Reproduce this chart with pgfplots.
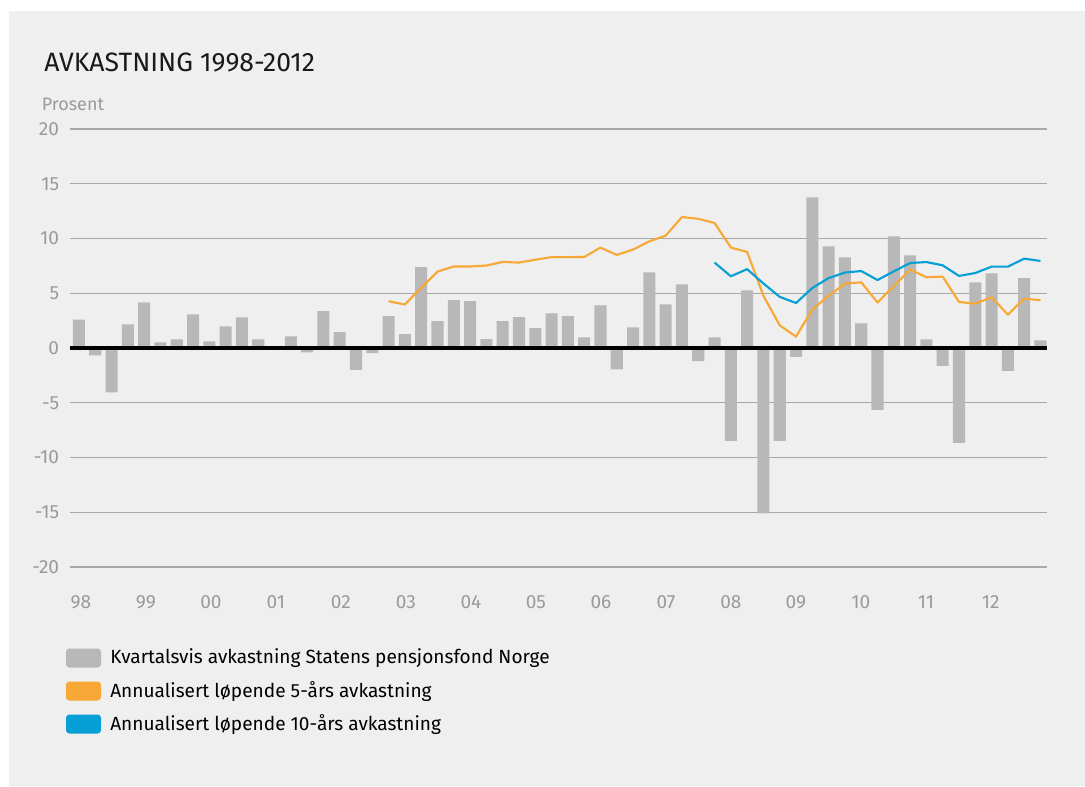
\documentclass[border=0pt]{standalone}
\usepackage{pgfplots}
\pgfplotsset{compat=1.18}
\usepackage{fontspec}
\setmainfont{Fira Sans}

\pgfdeclarelayer{background}
\pgfsetlayers{background,main}

\definecolor{panel}{HTML}{EFEFEF}
\definecolor{bargray}{HTML}{B8B8B9}
\definecolor{fiveyr}{HTML}{F8A836}
\definecolor{tenyr}{HTML}{069FD6}
\definecolor{ticktxt}{HTML}{9A9A9A}
\definecolor{gridc}{HTML}{A8A8A8}

% Quarterly returns, 1998Q1 = 0 ... 2012Q4 = 59 (percent)
\pgfplotstableread{
q  r
0  2.60
1  -0.67
2  -4.05
3  2.16
4  4.17
5  0.52
6  0.79
7  3.08
8  0.61
9  1.98
10 2.80
11 0.79
12 0.00
13 1.07
14 -0.40
15 3.36
16 1.44
17 -2.00
18 -0.47
19 2.90
20 1.26
21 7.38
22 2.45
23 4.37
24 4.27
25 0.80
26 2.45
27 2.81
28 1.81
29 3.17
30 2.90
31 0.98
32 3.90
33 -1.95
34 1.89
35 6.91
36 3.99
37 5.82
38 -1.20
39 0.98
40 -8.49
41 5.27
42 -15.10
43 -8.49
44 -0.82
45 13.76
46 9.29
47 8.28
48 2.26
49 -5.66
50 10.20
51 8.47
52 0.79
53 -1.64
54 -8.67
55 6.00
56 6.82
57 -2.10
58 6.37
59 0.70
}\quarterly

% Annualised rolling 5-year return
\pgfplotstableread{
q  r
19 4.27
20 3.97
21 5.50
22 6.98
23 7.44
24 7.44
25 7.53
26 7.86
27 7.80
28 8.06
29 8.30
30 8.30
31 8.31
32 9.17
33 8.50
34 8.99
35 9.74
36 10.26
37 11.96
38 11.80
39 11.42
40 9.17
41 8.77
42 4.77
43 2.07
44 1.04
45 3.53
46 4.76
47 5.88
48 6.00
49 4.15
50 5.66
51 7.16
52 6.46
53 6.52
54 4.20
55 4.05
56 4.63
57 3.05
58 4.51
59 4.36
}\fiveyear

% Annualised rolling 10-year return
\pgfplotstableread{
q  r
39 7.80
40 6.55
41 7.20
42 5.89
43 4.67
44 4.11
45 5.48
46 6.39
47 6.89
48 7.03
49 6.21
50 7.00
51 7.76
52 7.85
53 7.55
54 6.58
55 6.85
56 7.43
57 7.43
58 8.16
59 7.95
}\tenyear

\begin{document}
\begin{tikzpicture}
\begin{axis}[
  scale only axis,
  width=732.75pt, height=328.5pt,
  xmin=-0.55, xmax=59.4,
  ymin=-20, ymax=20,
  ytick={-20,-15,...,20},
  xtick={0.12,4.11,8.10,12.08,16.07,20.06,24.05,28.04,32.03,36.02,40.00,43.99,47.98,51.97,55.95},
  xticklabels={98,99,00,01,02,03,04,05,06,07,08,09,10,11,12},
  axis line style={draw=none},
  major tick length=0pt,
  ymajorgrids,
  grid style={gridc, line width=0.85pt},
  tick label style={font=\fontsize{14.3}{16}\selectfont, text=ticktxt},
  /pgf/number format/assume math mode=true,
  yticklabel style={inner sep=0pt, anchor=east, xshift=-8pt},
  xticklabel style={inner sep=0pt, anchor=north, yshift=-21.5pt},
  clip=false,
]
\coordinate (LL) at (rel axis cs:0,0);
\addplot[ybar, bar width=0.74, fill=bargray, draw=none, bar shift=0pt]
  table[x=q, y=r] {\quarterly};
\addplot[black, line width=3pt] coordinates {(-0.55,0) (59.4,0)};
\addplot[fiveyr, line width=1.6pt, line join=round] table[x=q, y=r] {\fiveyear};
\addplot[tenyr, line width=1.6pt, line join=round] table[x=q, y=r] {\tenyear};
\end{axis}

% page layout in pixel units measured from the top-left corner; axis box corner at (70,567)
\begin{scope}[x=0.75pt, y=-0.75pt, shift={(LL)}, shift={(-70,-567)}]
\begin{pgfonlayer}{background}
\fill[white] (0,0) rectangle (1085,786);
\fill[panel] (9,11) rectangle (1085,786);
\end{pgfonlayer}

\node[anchor=base west, inner sep=0pt, font=\fontsize{19.9}{23}\selectfont, text=black!90]
  at (44,71.5) {AVKASTNING 1998-2012};
\node[anchor=base west, inner sep=0pt, font=\fontsize{13.5}{16}\selectfont, text=ticktxt]
  at (41.5,110.5) {Prosent};

\begin{scope}[font=\fontsize{14.3}{18}\selectfont]
\fill[bargray, rounded corners=2.5pt] (66,648.5) rectangle (101,667.5);
\node[anchor=west, inner sep=0pt] at (110,658.5) {Kvartalsvis avkastning Statens pensjonsfond Norge};
\fill[fiveyr, rounded corners=2.5pt] (66,681.5) rectangle (101,700.5);
\node[anchor=west, inner sep=0pt] at (110,691.5) {Annualisert løpende 5-års avkastning};
\fill[tenyr, rounded corners=2.5pt] (66,714.5) rectangle (101,733.5);
\node[anchor=west, inner sep=0pt] at (110,724.5) {Annualisert løpende 10-års avkastning};
\end{scope}
\end{scope}
\end{tikzpicture}
\end{document}
